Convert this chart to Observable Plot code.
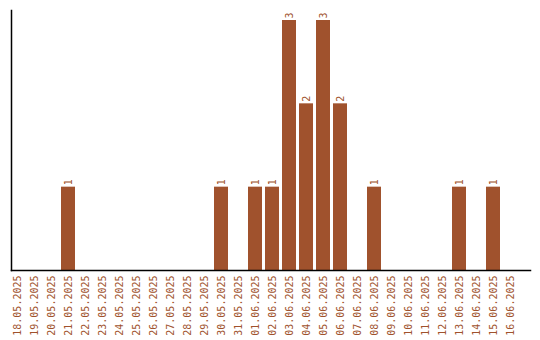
<!DOCTYPE html>
<html>
<head>
<meta charset="utf-8">
<script src="https://cdn.jsdelivr.net/npm/d3@7"></script>
<script src="https://cdn.jsdelivr.net/npm/@observablehq/plot@0.6"></script>
<style>
  html, body { margin: 0; padding: 0; background: #fff; }
  svg { display: block; }
</style>
</head>
<body>
<div id="chart"></div>
<script>
const dates = ["18.05.2025","19.05.2025","20.05.2025","21.05.2025","22.05.2025","23.05.2025","24.05.2025","25.05.2025","26.05.2025","27.05.2025","28.05.2025","29.05.2025","30.05.2025","31.05.2025","01.06.2025","02.06.2025","03.06.2025","04.06.2025","05.06.2025","06.06.2025","07.06.2025","08.06.2025","09.06.2025","10.06.2025","11.06.2025","12.06.2025","13.06.2025","14.06.2025","15.06.2025","16.06.2025"];
const counts = [0,0,0,1,0,0,0,0,0,0,0,0,1,0,1,1,3,2,3,2,0,1,0,0,0,0,1,0,1,0];

const color = "#a0522d";
const data = dates.map((d, i) => ({date: d, count: counts[i]}));
const nonzero = data.filter(d => d.count > 0);

const chart = Plot.plot({
  width: 540,
  height: 340,
  marginLeft: 11,
  marginRight: 10,
  marginTop: 10,
  marginBottom: 70,
  style: {fontFamily: "'DejaVu Sans Mono', monospace", fontSize: "10px", background: "#fff"},
  x: {domain: dates, range: [10, 517], paddingInner: 3/17, paddingOuter: 0, label: null},
  y: {domain: [0, 3.12], axis: null},
  marks: [
    Plot.barY(data, {x: "date", y: "count", fill: color}),
    Plot.text(nonzero, {x: "date", y: "count", text: d => String(d.count), rotate: -90, textAnchor: "start", dy: -2, fill: color, fontFamily: "'DejaVu Sans Mono', monospace", fontSize: 10}),
    Plot.axisX({tickRotate: -90, tickSize: 0, tickPadding: 5, fill: color, fontFamily: "'DejaVu Sans Mono', monospace", fontSize: 10, label: null}),
    Plot.frame({anchor: "left", stroke: "#000", strokeWidth: 1.5}),
    Plot.frame({anchor: "bottom", stroke: "#000", strokeWidth: 1.5})
  ]
});
document.getElementById("chart").appendChild(chart);
</script>
</body>
</html>
